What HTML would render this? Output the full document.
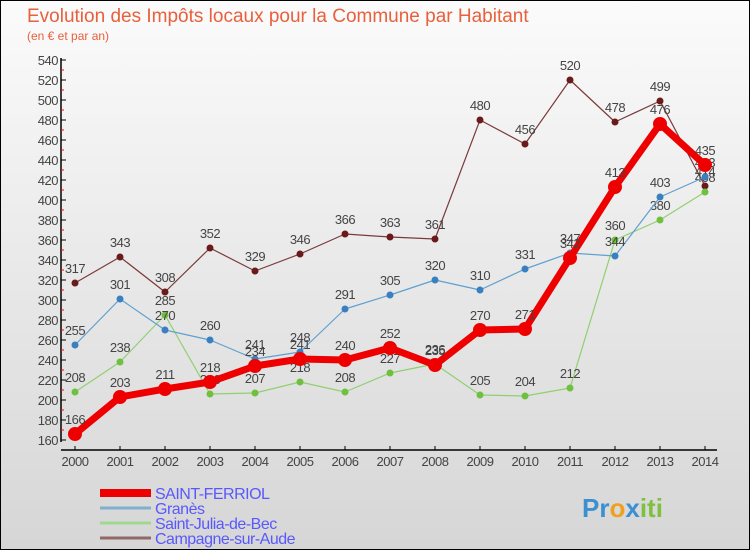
<!DOCTYPE html>
<html><head><meta charset="utf-8"><style>
body{margin:0}
#c{position:relative;width:750px;height:550px;box-sizing:border-box;border:1px solid #000;background:linear-gradient(#fbfbfb,#d6d6d6);font-family:"Liberation Sans",sans-serif;overflow:hidden}
</style></head><body>
<div id="c">
<svg id="s" width="750" height="550" style="position:absolute;left:-1px;top:-1px">
<text x="27" y="22" font-size="19" fill="#e8603c">Evolution des Impôts locaux pour la Commune par Habitant</text>
<text x="27" y="40" font-size="12" fill="#e8603c">(en € et par an)</text>
</svg>
</div>
<script>
const years=[2000,2001,2002,2003,2004,2005,2006,2007,2008,2009,2010,2011,2012,2013,2014];
const ferriol=[166,203,211,218,234,241,240,252,235,270,271,342,413,476,435];
const granes=[255,301,270,260,241,248,291,305,320,310,331,347,344,403,423];
const julia=[208,238,285,206,207,218,208,227,236,205,204,212,360,380,408];
const campagne=[317,343,308,352,329,346,366,363,361,480,456,520,478,499,414];
const yTicks=[160,180,200,220,240,260,280,300,320,340,360,380,400,420,440,460,480,500,520,540];
const NS="http://www.w3.org/2000/svg";
const svg=document.getElementById('s');
const X=i=>75+i*45, Y=v=>440-(v-160);
function el(t,a,p){const e=document.createElementNS(NS,t);for(const k in a)e.setAttribute(k,a[k]);(p||svg).appendChild(e);return e;}
// axes
const ya=el('line',{x1:61,y1:58,x2:61,y2:442,stroke:'#000','stroke-width':1.5});

const xa=el('line',{x1:61,y1:450,x2:717,y2:450,stroke:'#000','stroke-width':1.5});

yTicks.forEach(v=>{
  el('line',{x1:61,y1:Y(v),x2:66,y2:Y(v),stroke:'#000'});
  if(v<540)el('line',{x1:61,y1:Y(v+10),x2:64,y2:Y(v+10),stroke:'red'});
  const t=el('text',{x:58,y:Y(v)+5,'font-size':13,fill:'#444','text-anchor':'end','letter-spacing':'-0.5'});
  t.textContent=v;
  
  
});
years.forEach((y,i)=>{
  el('line',{x1:X(i),y1:446,x2:X(i),y2:450,stroke:'#000'});
  const t=el('text',{x:X(i),y:466,'font-size':13,fill:'#444','text-anchor':'middle','letter-spacing':'-0.5'});
  t.textContent=y;
  
  
});
function series(d,col,dot,w,r,name){
  const g=el('g',{});
  
  
  el('polyline',{points:d.map((v,i)=>X(i)+','+Y(v)).join(' '),fill:'none',stroke:col,'stroke-width':w,'stroke-linejoin':'round'},g);
  d.forEach((v,i)=>{
    const c=el('circle',{cx:X(i),cy:Y(v),r:r,fill:dot},g);
    
    
    const t=el('text',{x:X(i),y:Y(v)-10,'font-size':13,fill:'#444','text-anchor':'middle','letter-spacing':'-0.5'},g);
    t.textContent=v;
    
    
  });
}
series(campagne,'#7a3a3a','#6a1a1a',1.2,3.5,'campagne-series');
series(julia,'#90d070','#70c040',1.2,3.5,'julia-series');
series(granes,'#5fa0d0','#3a80c0',1.2,3.5,'granes-series');
series(ferriol,'#ee0000','#ee0000',7,7,'ferriol-series');
const leg=[['SAINT-FERRIOL','#ee0000',8],['Granès','#80b0d0',3],['Saint-Julia-de-Bec','#a0d890',3],['Campagne-sur-Aude','#906868',3]];
leg.forEach((l,i)=>{
  const y=493+i*15;
  const g=el('g',{});
  
  
  el('line',{x1:100,y1:y,x2:151,y2:y,stroke:l[1],'stroke-width':l[2]},g);
  const t=el('text',{x:155,y:y+6,'font-size':16,fill:'#5858ff','letter-spacing':'-0.5'},g);
  t.textContent=l[0];
});
const p=el('text',{x:582,y:517,'font-size':26,'font-weight':'bold',fill:'#f0a020'});
p.innerHTML='<tspan fill="#3a90d0">Pr</tspan><tspan fill="#f0a020">o</tspan><tspan fill="#3a90d0">x</tspan><tspan fill="#80c040">iti</tspan>';


</script>
</body></html>
